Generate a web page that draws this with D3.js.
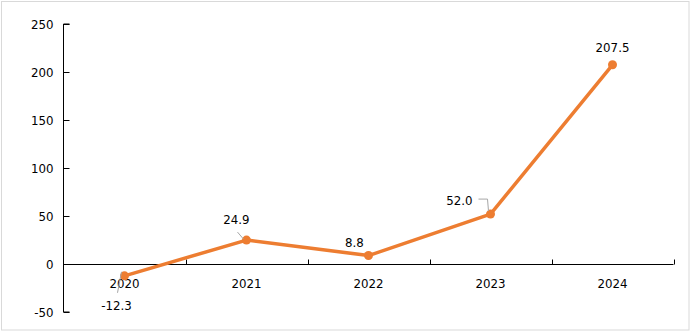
<!DOCTYPE html>
<html>
<head>
<meta charset="utf-8">
<script src="https://cdn.jsdelivr.net/npm/d3@7"></script>
<style>
  html, body { margin: 0; padding: 0; background: #fff; }
  svg { display: block; }
  text { font-family: "DejaVu Sans", Verdana, sans-serif; font-size: 11.8px; fill: #000; }
</style>
</head>
<body>
<svg id="chart" width="691" height="332"></svg>
<script>
// Annual values by year
const years = ["2020", "2021", "2022", "2023", "2024"];
const values = [-12.3, 24.9, 8.8, 52.0, 207.5];
const yTicks = [-50, 0, 50, 100, 150, 200, 250];
// Label offsets (dx, dy from point) and whether a leader line is drawn
const labelOffsets = [[-8, 30], [-10, -20], [-14, -13], [-31, -13], [0, -17]];
const leaders = [true, true, false, true, false];

// plain hyphen-minus for negatives
const hyphen = f => d => f(d).replace("\u2212", "-");
const fmtInt = hyphen(d3.format("d"));
const fmtVal = hyphen(d3.format(".1f"));

const svg = d3.select("#chart");

// outer frame
svg.append("rect")
  .attr("x", 1.5).attr("y", 1.5)
  .attr("width", 687.5).attr("height", 328.5)
  .attr("fill", "#fff").attr("stroke", "#d9d9d9").attr("stroke-width", 1);

const x = d3.scaleBand().domain(years).range([63.5, 673.5]);
const y = d3.scaleLinear().domain([-50, 250]).range([312, 24]);

// y axis
const yAxis = svg.append("g").attr("transform", "translate(63.5,0)")
  .call(d3.axisRight(y).tickValues(yTicks).tickSize(6).tickFormat(fmtInt));
yAxis.select(".domain").attr("stroke", "#000").attr("d", `M6,${y(250)}H0V${y(-50)}H6`);
yAxis.selectAll(".tick line").attr("stroke", "#000");
yAxis.selectAll(".tick text").attr("x", -10).attr("text-anchor", "end").attr("dy", "0.36em");

// x axis at zero, ticks at category boundaries pointing up
const xAxisG = svg.append("g").attr("transform", `translate(0,${Math.round(y(0)) + 0.5})`);
xAxisG.append("line").attr("x1", x.range()[0]).attr("x2", x.range()[1])
  .attr("stroke", "#000");
const bounds = years.map(d => x(d) + x.bandwidth()).map(v => Math.round(v) + 0.5);
xAxisG.selectAll("line.tk").data(bounds).enter().append("line")
  .attr("class", "tk").attr("x1", d => d).attr("x2", d => d)
  .attr("y1", 0).attr("y2", -5).attr("stroke", "#000");
xAxisG.selectAll("text").data(years).enter().append("text")
  .attr("x", d => x(d) + x.bandwidth() / 2)
  .attr("y", 23).attr("text-anchor", "middle").text(d => d);

// line series
const cx = (d, i) => x(years[i]) + x.bandwidth() / 2;
const line = d3.line().x(cx).y(d => y(d));
svg.append("path").datum(values)
  .attr("d", line).attr("fill", "none")
  .attr("stroke", "#ED7D31").attr("stroke-width", 3.5).attr("stroke-linejoin", "round");

svg.selectAll("circle.pt").data(values).enter().append("circle")
  .attr("class", "pt").attr("cx", cx).attr("cy", d => y(d)).attr("r", 4.5)
  .attr("fill", "#ED7D31");

// leader lines
const leaderPaths = [
  (px, py) => `M${px - 3},${py - 4}L${px - 7},${py + 17}`,
  (px, py) => `M${px - 3},${py - 1}L${px - 9},${py - 8}`,
  null,
  (px, py) => `M${px - 2},${py - 3}L${px - 3},${py - 15}H${px - 12}`,
  null
];
values.forEach((v, i) => {
  if (!leaders[i]) return;
  svg.append("path").attr("d", leaderPaths[i](cx(v, i), y(v)))
    .attr("fill", "none").attr("stroke", "#a6a6a6").attr("stroke-width", 1);
});

// value labels
svg.selectAll("text.lbl").data(values).enter().append("text")
  .attr("class", "lbl")
  .attr("x", (d, i) => cx(d, i) + labelOffsets[i][0])
  .attr("y", (d, i) => y(d) + labelOffsets[i][1])
  .attr("text-anchor", "middle").attr("dy", "0.36em")
  .text(d => fmtVal(d));
</script>
</body>
</html>
